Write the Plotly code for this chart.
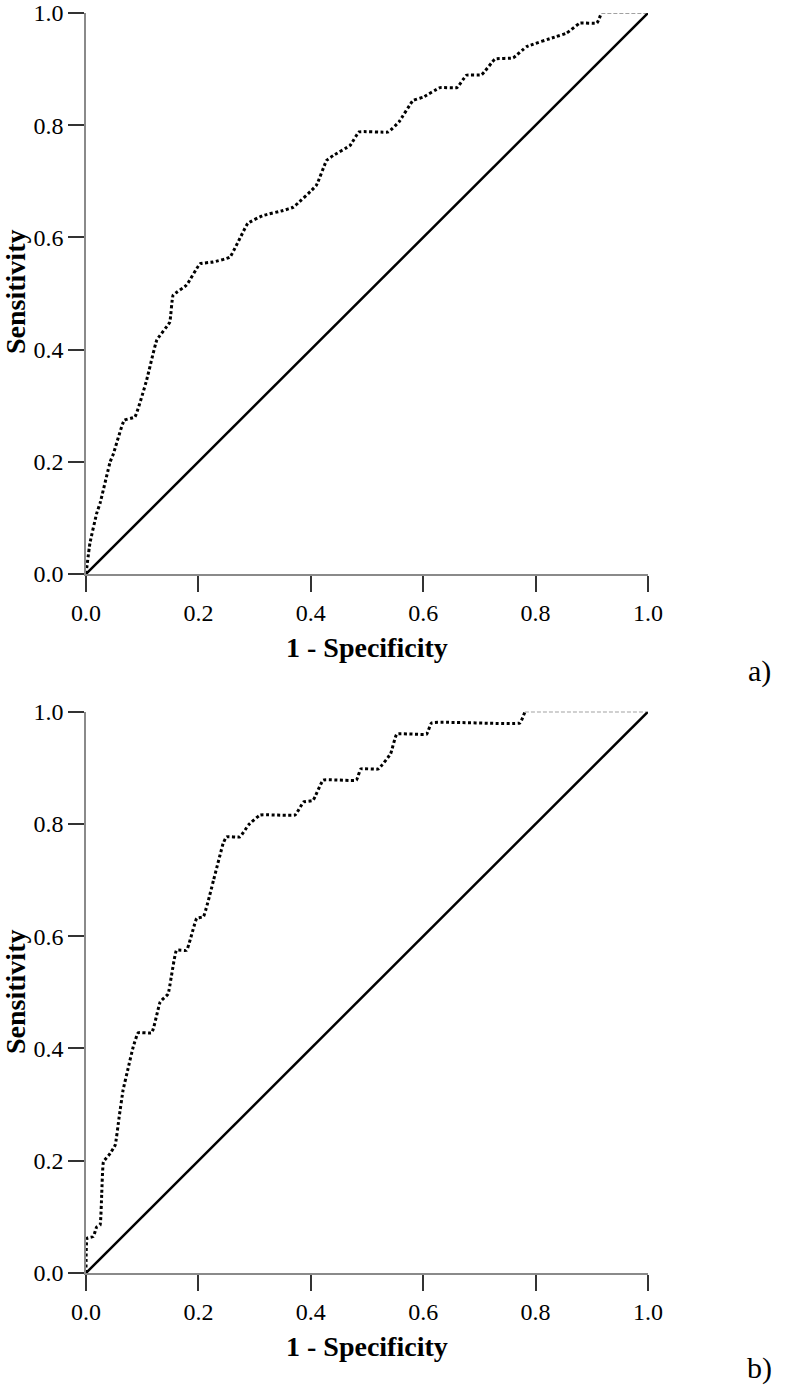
import plotly.graph_objects as go

# ROC curve a) : 1 - specificity vs sensitivity
fpr_a = [0.0, 0.007, 0.019, 0.025, 0.043, 0.049, 0.068, 0.087, 0.108, 0.126,
         0.149, 0.155, 0.179, 0.203, 0.226, 0.256, 0.288, 0.315, 0.351, 0.369,
         0.41, 0.428, 0.44, 0.47, 0.486, 0.538, 0.557, 0.582, 0.6, 0.63,
         0.66, 0.677, 0.704, 0.728, 0.76, 0.784, 0.837, 0.855, 0.879, 0.909,
         0.917, 1.0]
tpr_a = [0.0, 0.055, 0.108, 0.126, 0.2, 0.215, 0.274, 0.28, 0.346, 0.417,
         0.449, 0.497, 0.515, 0.553, 0.556, 0.565, 0.625, 0.639, 0.648, 0.654,
         0.693, 0.737, 0.746, 0.764, 0.788, 0.788, 0.806, 0.844, 0.85, 0.867,
         0.867, 0.889, 0.89, 0.918, 0.92, 0.94, 0.958, 0.964, 0.982, 0.982,
         1.0, 1.0]

# ROC curve b)
fpr_b = [0.0, 0.002, 0.013, 0.019, 0.025, 0.028, 0.031, 0.043, 0.052, 0.059,
         0.066, 0.075, 0.084, 0.093, 0.117, 0.132, 0.146, 0.161, 0.179, 0.197,
         0.209, 0.227, 0.244, 0.25, 0.274, 0.289, 0.31, 0.372, 0.387, 0.404,
         0.422, 0.481, 0.489, 0.52, 0.542, 0.553, 0.606, 0.615, 0.772, 0.781,
         1.0]
tpr_b = [0.0, 0.062, 0.065, 0.082, 0.085, 0.142, 0.198, 0.213, 0.228, 0.278,
         0.326, 0.365, 0.403, 0.428, 0.428, 0.483, 0.497, 0.575, 0.575, 0.632,
         0.635, 0.7, 0.765, 0.777, 0.777, 0.798, 0.816, 0.816, 0.839, 0.842,
         0.878, 0.878, 0.898, 0.898, 0.925, 0.96, 0.96, 0.98, 0.98, 1.0,
         1.0]

ref_line = [0.0, 1.0]
ticks = [0.0, 0.2, 0.4, 0.6, 0.8, 1.0]
panel_labels = ["a)", "b)"]

SERIF = "Liberation Serif, Times New Roman, serif"

fig = go.Figure()

panels = [(fpr_a, tpr_a, "x", "y"), (fpr_b, tpr_b, "x2", "y2")]
for fpr, tpr, xa, ya in panels:
    # reference diagonal
    fig.add_trace(go.Scatter(x=ref_line, y=ref_line, xaxis=xa, yaxis=ya,
                             mode="lines", line=dict(color="black", width=2.5),
                             showlegend=False, hoverinfo="skip"))
    # ROC curve (dotted), last flat stretch drawn thin
    fig.add_trace(go.Scatter(x=fpr[:-1], y=tpr[:-1], xaxis=xa, yaxis=ya,
                             mode="lines",
                             line=dict(color="black", width=3, dash="3px,2.5px",
                                       shape="spline", smoothing=0.3),
                             showlegend=False))
    fig.add_trace(go.Scatter(x=fpr[-2:], y=tpr[-2:], xaxis=xa, yaxis=ya,
                             mode="lines",
                             line=dict(color="#444444", width=1.2, dash="4px,2px"),
                             showlegend=False, hoverinfo="skip"))

axis_style = dict(range=[0, 1], tickvals=ticks, ticktext=[f"{t:.1f}" for t in ticks],
                  showgrid=False, zeroline=False, showline=True, automargin=False,
                  linecolor="#8a8a8a", linewidth=1.5,
                  ticks="outside", ticklen=16, tickwidth=1.5, tickcolor="#333333",
                  tickfont=dict(family=SERIF, size=24, color="black"),
                  ticklabeloverflow="allow", fixedrange=True)

# plot areas: top 13..574 px, bottom 711.7..1273 px
top_dom = [(1273 - 574) / 1260, 1.0]
bot_dom = [0.0, (1273 - 711.7) / 1260]

fig.update_layout(
    width=798, height=1395,
    margin=dict(l=86, r=150, t=13, b=122),
    paper_bgcolor="white", plot_bgcolor="white",
    xaxis=dict(axis_style, domain=[0, 1], anchor="y"),
    yaxis=dict(axis_style, domain=top_dom, anchor="x"),
    xaxis2=dict(axis_style, domain=[0, 1], anchor="y2"),
    yaxis2=dict(axis_style, domain=bot_dom, anchor="x2"),
)

title_font = dict(family=SERIF, size=28, color="black")
annots = []
for y_sens, y_spec, y_lab, lab in [((1273 - 292) / 1260, (1273 - 647) / 1260,
                                    (1273 - 671) / 1260, panel_labels[0]),
                                   ((1273 - 992) / 1260, (1273 - 1346) / 1260,
                                    (1273 - 1368) / 1260, panel_labels[1])]:
    annots.append(dict(text="<b>Sensitivity</b>", xref="paper", yref="paper",
                       x=(15 - 86) / 562, y=y_sens, textangle=-90, showarrow=False,
                       xanchor="center", yanchor="middle", font=title_font))
    annots.append(dict(text="<b>1 - Specificity</b>", xref="paper", yref="paper",
                       x=0.5, y=y_spec, showarrow=False,
                       xanchor="center", yanchor="middle", font=title_font))
    annots.append(dict(text=lab, xref="paper", yref="paper",
                       x=(759 - 86) / 562, y=y_lab, showarrow=False,
                       xanchor="center", yanchor="middle",
                       font=dict(family=SERIF, size=30, color="black")))
fig.update_layout(annotations=annots)

# drop the default 8px page margin so the figure sits at the window's corner
fig.write_html("out.html", config={"displayModeBar": False},
               post_script="document.body.style.margin = '0px';")
